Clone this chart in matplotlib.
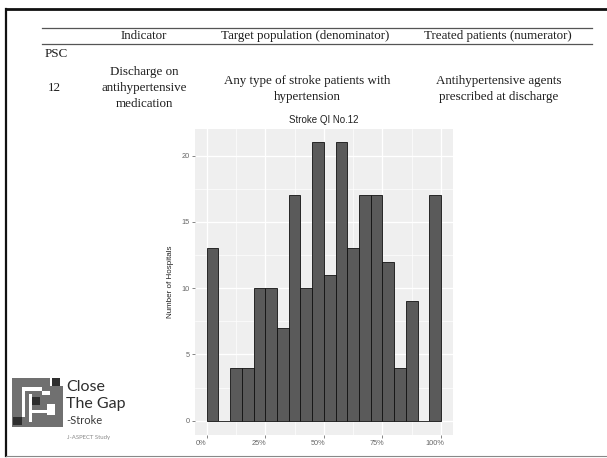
import matplotlib
matplotlib.use("Agg")
import matplotlib.pyplot as plt
import matplotlib.transforms as mtransforms
from matplotlib.patches import Rectangle
from matplotlib.lines import Line2D

# Histogram: number of hospitals per 5%-wide bin of the QI rate
bin_edges = [i * 0.05 for i in range(20)]
hospital_counts = [13, 0, 4, 4, 10, 10, 7, 17, 10, 21, 11, 21, 13, 17, 17, 12, 4, 9, 0, 17]
x_ticks = [0.0, 0.25, 0.50, 0.75, 1.00]
x_tick_labels = ["0%", "25%", "50%", "75%", "100%"]
y_ticks = [0, 5, 10, 15, 20]

# Table content
header = ["Indicator", "Target population (denominator)", "Treated patients (numerator)"]
row_group = "PSC"
row_id = "12"
indicator_text = "Discharge on\nantihypertensive\nmedication"
target_text = "Any type of stroke patients with\nhypertension"
treated_text = "Antihypertensive agents\nprescribed at discharge"

W, H = 607, 458
fig = plt.figure(figsize=(W / 100, H / 100), dpi=100)
fig.patch.set_facecolor("white")

# Page layer in pixel coordinates
pg = fig.add_axes([0, 0, 1, 1], zorder=0)
pg.set_xlim(0, W)
pg.set_ylim(H, 0)
pg.axis("off")
pg.patch.set_alpha(0)

# Slide frame
pg.add_line(Line2D([6, W], [9, 9], color="#111111", lw=2.0))
pg.add_line(Line2D([6, 6], [9, 456], color="#111111", lw=1.6))
pg.add_line(Line2D([6, W], [456, 456], color="#888888", lw=0.8))

# Table rules
pg.add_line(Line2D([42, 592], [27.5, 27.5], color="#555555", lw=0.9))
pg.add_line(Line2D([42, 592], [43.5, 43.5], color="#555555", lw=0.9))

serif = ["Liberation Serif", "DejaVu Serif"]
tc = "#1e1e1e"
fs = 9.4
pg.text(144, 36, header[0], ha="center", va="center", family=serif, fontsize=fs, color=tc)
pg.text(305, 36, header[1], ha="center", va="center", family=serif, fontsize=fs, color=tc)
pg.text(498, 36, header[2], ha="center", va="center", family=serif, fontsize=fs, color=tc)
pg.text(45, 54, row_group, ha="left", va="center", family=serif, fontsize=fs, color=tc)
pg.text(54, 88, row_id, ha="center", va="center", family=serif, fontsize=fs, color=tc)
pg.text(144, 88, indicator_text, ha="center", va="center", family=serif, fontsize=fs,
        color=tc, linespacing=1.4)
pg.text(307, 89, target_text, ha="center", va="center", family=serif, fontsize=fs,
        color=tc, linespacing=1.4)
pg.text(499, 89, treated_text, ha="center", va="center", family=serif, fontsize=fs,
        color=tc, linespacing=1.4)

# Logo mark
gray, dark = "#707070", "#2e2e2e"
def box(x0, y0, x1, y1, c):
    pg.add_patch(Rectangle((x0, y0), x1 - x0, y1 - y0, facecolor=c, edgecolor="none"))

box(12, 378, 50, 427, gray)
box(50, 386, 63, 427, gray)
box(21.5, 387, 41.5, 391, "white")
box(21.5, 387, 25, 417, "white")
box(28.5, 394, 31.5, 422, "white")
box(41.5, 391, 50, 395, "white")
box(47, 404, 55, 415, "white")
box(31.5, 410, 47, 413, "white")
box(52, 378, 60, 386, dark)
box(31.5, 397, 40, 405, dark)
box(13, 417, 21.5, 425, dark)

sans_logo = ["Lato", "Open Sans", "DejaVu Sans"]
pg.text(66, 387, "Close", ha="left", va="center", family=sans_logo, fontsize=11.5, color="#2e2e2e")
pg.text(66, 404, "The Gap", ha="left", va="center", family=sans_logo, fontsize=11.5, color="#2e2e2e")
pg.text(66, 421, "-Stroke", ha="left", va="center", family=sans_logo, fontsize=8, color="#3a3a3a")
pg.text(67, 437, "J-ASPECT Study", ha="left", va="center", family=sans_logo, fontsize=4.3, color="#8a8a8a")

# Histogram panel
px0, px1, py0, py1 = 195, 452.7, 128.5, 434.6
ax = fig.add_axes([px0 / W, 1 - py1 / H, (px1 - px0) / W, (py1 - py0) / H], zorder=1)
ax.set_facecolor("#efefef")
ax.bar(bin_edges, hospital_counts, width=0.05, align="edge",
       color="#5a5a5a", edgecolor="#111111", linewidth=0.6, zorder=3)
ax.set_xlim(-0.05, 1.05)
ax.set_ylim(-1.05, 22.05)
ax.set_xticks(x_ticks)
ax.set_xticks([0.125, 0.375, 0.625, 0.875], minor=True)
ax.set_yticks(y_ticks)
ax.set_yticks([2.5, 7.5, 12.5, 17.5], minor=True)
ax.grid(which="major", color="white", lw=0.9, zorder=0)
ax.grid(which="minor", color="white", lw=0.45, zorder=0)
ax.set_axisbelow(True)
for s in ax.spines.values():
    s.set_visible(False)

sans = ["Liberation Sans", "DejaVu Sans"]
ax.tick_params(axis="both", which="major", length=2.5, width=0.5, color="#555555",
               labelsize=5.3, labelcolor="#666666", pad=1.5)
ax.tick_params(axis="both", which="minor", length=0)
ax.set_yticklabels([str(v) for v in y_ticks], family=sans)
ax.set_xticklabels(x_tick_labels, family=sans)
shift = mtransforms.ScaledTranslation(-6 / 100, 0, fig.dpi_scale_trans)
for lbl in ax.get_xticklabels():
    lbl.set_transform(lbl.get_transform() + shift)

ax.set_ylabel("Number of Hospitals", family=sans, fontsize=5.8, color="#222222", labelpad=5)
ax.set_title("Stroke QI No.12", family=sans, fontsize=7, color="#222222", pad=4)

fig.savefig("out.png", dpi=100, facecolor="white")
